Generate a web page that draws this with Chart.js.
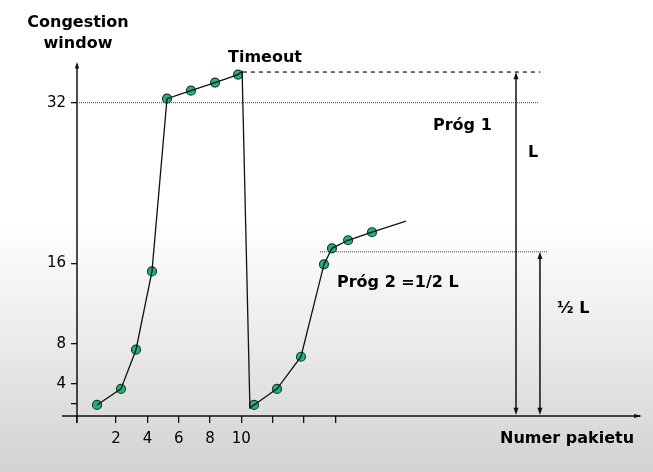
<!DOCTYPE html>
<html>
<head>
<meta charset="utf-8">
<script src="https://cdn.jsdelivr.net/npm/chart.js@4.4.1/dist/chart.umd.min.js"></script>
<style>
    html, body { margin: 0; padding: 0; background: #fff; }
    #wrap { width: 653px; height: 472px; position: relative; }
</style>
</head>
<body>
<div id="wrap"><canvas id="cwnd"></canvas></div>
<script>
// packet number (x) and congestion window (y)
const curveX = [0.78, 2.31, 3.27, 4.29, 5.25, 6.78, 8.32, 9.79, 10.05, 10.55, 10.81, 12.28, 13.81, 15.28, 15.79, 16.82, 18.35, 20.52];
const curveY = [1.9, 3.5, 7.4, 15.2, 32.4, 33.2, 34.0, 34.8, 35.1, 1.6, 1.9, 3.5, 6.7, 15.9, 17.5, 18.3, 19.1, 20.2];
const pointX = [0.78, 2.31, 3.27, 4.29, 5.25, 6.78, 8.32, 9.79, 10.81, 12.28, 13.81, 15.28, 15.79, 16.82, 18.35];
const pointY = [1.9, 3.5, 7.4, 15.2, 32.4, 33.2, 34.0, 34.8, 1.9, 3.5, 6.7, 15.9, 17.5, 18.3, 19.1];

const xTicks = [-0.5, 2, 4, 6, 8, 10, 12, 14, 16];
const xLabels = ['', '2', '4', '6', '8', '10', '', '', ''];
const yTicks = [2, 4, 8, 16, 32];
const yLabels = ['', '4', '8', '16', '32'];

// thresholds
const timeoutLevel = 35.05;
const prog1 = 32;
const prog2 = 17.15;

const toXY = (xs, ys) => xs.map((x, i) => ({ x: x, y: ys[i] }));

const bgPlugin = {
    id: 'bg',
    beforeDraw(chart) {
        const ctx = chart.ctx;
        const g = ctx.createLinearGradient(0, 0, 0, chart.height);
        g.addColorStop(0, '#ffffff');
        g.addColorStop(0.47, '#ffffff');
        g.addColorStop(0.72, '#ebebeb');
        g.addColorStop(1, '#d2d2d2');
        ctx.save();
        ctx.fillStyle = g;
        ctx.fillRect(0, 0, chart.width, chart.height);
        ctx.restore();
    }
};

function arrowHead(ctx, x, y, dir, size) {
    // dir: 'up', 'down', 'right'
    ctx.beginPath();
    if (dir === 'up') {
        ctx.moveTo(x, y); ctx.lineTo(x - size * 0.55, y + size * 1.6); ctx.lineTo(x + size * 0.55, y + size * 1.6);
    } else if (dir === 'down') {
        ctx.moveTo(x, y); ctx.lineTo(x - size * 0.55, y - size * 1.6); ctx.lineTo(x + size * 0.55, y - size * 1.6);
    } else {
        ctx.moveTo(x, y); ctx.lineTo(x - size * 1.6, y - size * 0.4); ctx.lineTo(x - size * 1.6, y + size * 0.4);
    }
    ctx.closePath();
    ctx.fill();
}

const notesPlugin = {
    id: 'notes',
    afterDraw(chart) {
        const ctx = chart.ctx;
        const xs = chart.scales.x;
        const ys = chart.scales.y;
        const area = chart.chartArea;
        ctx.save();
        ctx.strokeStyle = '#111';
        ctx.fillStyle = '#111';

        // axes
        ctx.lineWidth = 1.5;
        ctx.beginPath();
        ctx.moveTo(62, area.bottom);
        ctx.lineTo(area.right - 2, area.bottom);
        ctx.stroke();
        arrowHead(ctx, area.right, area.bottom, 'right', 5);
        ctx.beginPath();
        ctx.moveTo(area.left, area.bottom + 7);
        ctx.lineTo(area.left, area.top + 6);
        ctx.stroke();
        arrowHead(ctx, area.left, area.top + 2, 'up', 4);

        // threshold lines
        ctx.lineWidth = 1;
        ctx.strokeStyle = '#444';
        ctx.setLineDash([1, 1]);
        ctx.beginPath();
        ctx.moveTo(area.left, ys.getPixelForValue(prog1));
        ctx.lineTo(xs.getPixelForValue(28.96), ys.getPixelForValue(prog1));
        ctx.moveTo(xs.getPixelForValue(15.03), ys.getPixelForValue(prog2));
        ctx.lineTo(xs.getPixelForValue(29.53), ys.getPixelForValue(prog2));
        ctx.stroke();
        ctx.strokeStyle = '#111';
        ctx.lineWidth = 1.2;
        ctx.setLineDash([4, 4]);
        ctx.beginPath();
        ctx.moveTo(xs.getPixelForValue(10.1), ys.getPixelForValue(timeoutLevel));
        ctx.lineTo(xs.getPixelForValue(29.1), ys.getPixelForValue(timeoutLevel));
        ctx.stroke();
        ctx.setLineDash([]);

        // L and 1/2 L arrows
        ctx.strokeStyle = '#111';
        ctx.lineWidth = 1.5;
        const bx = xs.getPixelForValue(27.55);
        const cx = xs.getPixelForValue(29.08);
        const yTop = ys.getPixelForValue(timeoutLevel);
        const yMid = ys.getPixelForValue(prog2);
        const yBot = area.bottom - 1;
        ctx.beginPath();
        ctx.moveTo(bx, yTop + 6); ctx.lineTo(bx, yBot - 6);
        ctx.moveTo(cx, yMid + 6); ctx.lineTo(cx, yBot - 6);
        ctx.stroke();
        arrowHead(ctx, bx, yTop, 'up', 4.5);
        arrowHead(ctx, bx, yBot, 'down', 4.5);
        arrowHead(ctx, cx, yMid, 'up', 4.5);
        arrowHead(ctx, cx, yBot, 'down', 4.5);

        // texts
        ctx.fillStyle = '#000';
        ctx.font = 'bold 16px "DejaVu Sans"';
        ctx.textBaseline = 'middle';
        ctx.textAlign = 'center';
        ctx.fillText('Congestion', 78, 23);
        ctx.fillText('window', 78, 44);
        ctx.textAlign = 'left';
        ctx.fillText('Timeout', 228, 58);
        ctx.fillText('Próg 1', 433, 126);
        ctx.fillText('L', 528, 153);
        ctx.fillText('Próg 2 =1/2 L', 337, 283);
        ctx.fillText('\u00BD L', 557, 309);
        ctx.fillText('Numer pakietu', 500, 439);
        ctx.restore();
    }
};

const chart = new Chart(document.getElementById('cwnd'), {
    type: 'line',
    data: {
        datasets: [{
            data: toXY(curveX, curveY),
            borderColor: '#111',
            borderWidth: 1.3,
            pointRadius: 0,
            tension: 0,
            fill: false
        }, {
            data: toXY(pointX, pointY),
            showLine: false,
            pointRadius: 4.5,
            pointBackgroundColor: '#27b07a',
            pointBorderColor: '#16402c',
            pointBorderWidth: 1.2
        }]
    },
    options: {
        responsive: true,
        maintainAspectRatio: false,
        animation: false,
        layout: { padding: { left: 0, right: 11, top: 60, bottom: 0 } },
        plugins: {
            legend: { display: false },
            tooltip: { enabled: false }
        },
        scales: {
            x: {
                type: 'linear',
                min: -0.5,
                max: 35.6,
                afterBuildTicks: (scale) => { scale.ticks = xTicks.map(v => ({ value: v })); },
                afterFit: (scale) => { scale.height = 56; },
                border: { display: false },
                grid: { drawOnChartArea: false, drawTicks: true, tickLength: 7, color: '#111', lineWidth: 1.3 },
                ticks: {
                    color: '#000',
                    padding: 7,
                    maxRotation: 0,
                    autoSkip: false,
                    font: { family: 'DejaVu Sans', size: 15 },
                    callback: (v) => { const i = xTicks.indexOf(v); return i >= 0 ? xLabels[i] : ''; }
                }
            },
            y: {
                type: 'linear',
                min: 0.8,
                max: 36.25,
                afterBuildTicks: (scale) => { scale.ticks = yTicks.map(v => ({ value: v })); },
                afterFit: (scale) => { scale.width = 77; },
                border: { display: false },
                grid: { drawOnChartArea: false, drawTicks: true, tickLength: 6, color: '#111', lineWidth: 1.3 },
                ticks: {
                    color: '#000',
                    padding: 5,
                    autoSkip: false,
                    font: { family: 'DejaVu Sans', size: 15 },
                    callback: (v) => { const i = yTicks.indexOf(v); return i >= 0 ? yLabels[i] : ''; }
                }
            }
        }
    },
    plugins: [bgPlugin, notesPlugin]
});
</script>
</body>
</html>
